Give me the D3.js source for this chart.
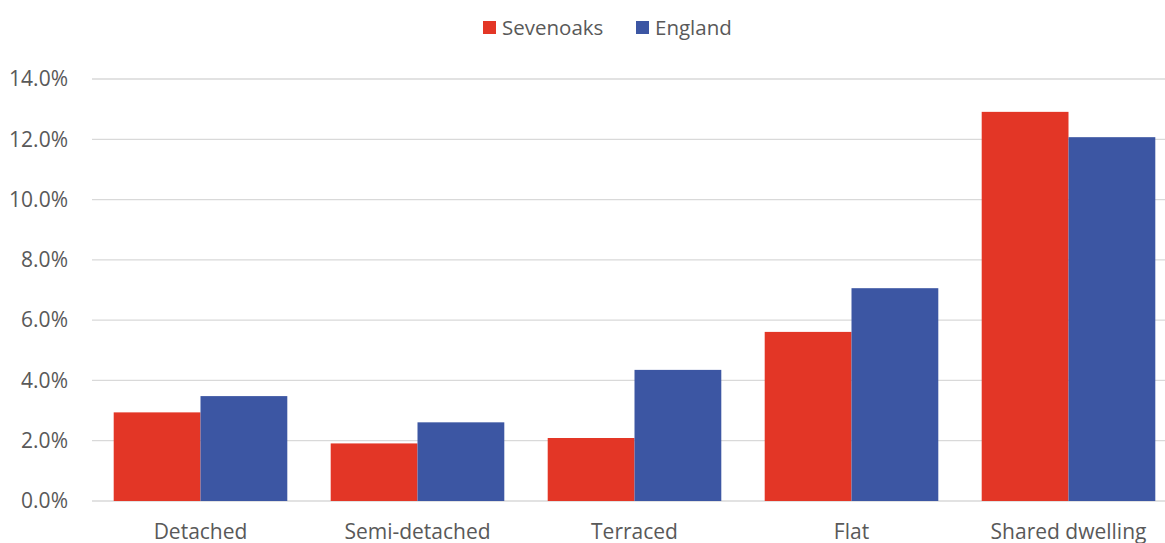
<!DOCTYPE html>
<html><head><meta charset="utf-8">
<script src="https://cdn.jsdelivr.net/npm/d3@7"></script>
<style>body{margin:0;background:#fff;} text{font-family:"Open Sans",sans-serif;fill:#595959;}</style>
</head><body>
<svg id="c" width="1165" height="543"></svg>
<script>
const categories = ["Detached","Semi-detached","Terraced","Flat","Shared dwelling"];
const seriesNames = ["Sevenoaks","England"];
const sevenoaks = [2.94, 1.91, 2.09, 5.61, 12.91];
const england = [3.48, 2.61, 4.35, 7.06, 12.07];
const yTicks = [0,2,4,6,8,10,12,14];
const colors = ["#E33626","#3C56A3"];

(function(){
const svg = d3.select("#c");
const mLeft = 92, mRight = 1177, mTop = 79, mBottom = 501;
const x = d3.scaleBand().domain(categories).range([mLeft,mRight]).paddingInner(0.2).paddingOuter(0.1);
const x1 = d3.scaleBand().domain(seriesNames).range([0,x.bandwidth()]);
const y = d3.scaleLinear().domain([0,14]).range([mBottom,mTop]);

svg.append("g").selectAll("line").data(yTicks).join("line")
  .attr("x1",mLeft).attr("x2",1165)
  .attr("y1",d=>y(d)).attr("y2",d=>y(d))
  .attr("stroke","#d9d9d9").attr("stroke-width",1.3);

const yAxis = d3.axisLeft(y).tickValues(yTicks).tickFormat(d=>d.toFixed(1)+"%").tickSize(0).tickPadding(0);
const ga = svg.append("g").attr("transform",`translate(68,0)`).call(yAxis);
ga.select(".domain").remove();
ga.selectAll("text").style("font-family","'Open Sans',sans-serif").style("font-size","21px").attr("fill","#595959");

const data = [sevenoaks, england];
data.forEach((vals,si)=>{
  svg.append("g").selectAll("rect").data(vals).join("rect")
    .attr("x",(d,i)=>x(categories[i])+x1(seriesNames[si]))
    .attr("width",x1.bandwidth())
    .attr("y",d=>y(d))
    .attr("height",d=>mBottom-y(d))
    .attr("fill",colors[si]);
});

const xAxis = d3.axisBottom(x).tickSize(0).tickPadding(0);
const gx = svg.append("g").attr("transform",`translate(0,${mBottom+23})`).call(xAxis);
gx.select(".domain").remove();
gx.selectAll("text").style("font-family","'Open Sans',sans-serif").style("font-size","21px").attr("fill","#595959");

const leg = svg.append("g");
const legX = [483, 636];
seriesNames.forEach((n,i)=>{
  leg.append("rect").attr("x",legX[i]).attr("y",21).attr("width",13).attr("height",13).attr("fill",colors[i]);
  leg.append("text").attr("x",legX[i]+19).attr("y",27.5).attr("dy","0.35em").style("font-size","20.5px").text(n);
});
})();
</script>
</body></html>
